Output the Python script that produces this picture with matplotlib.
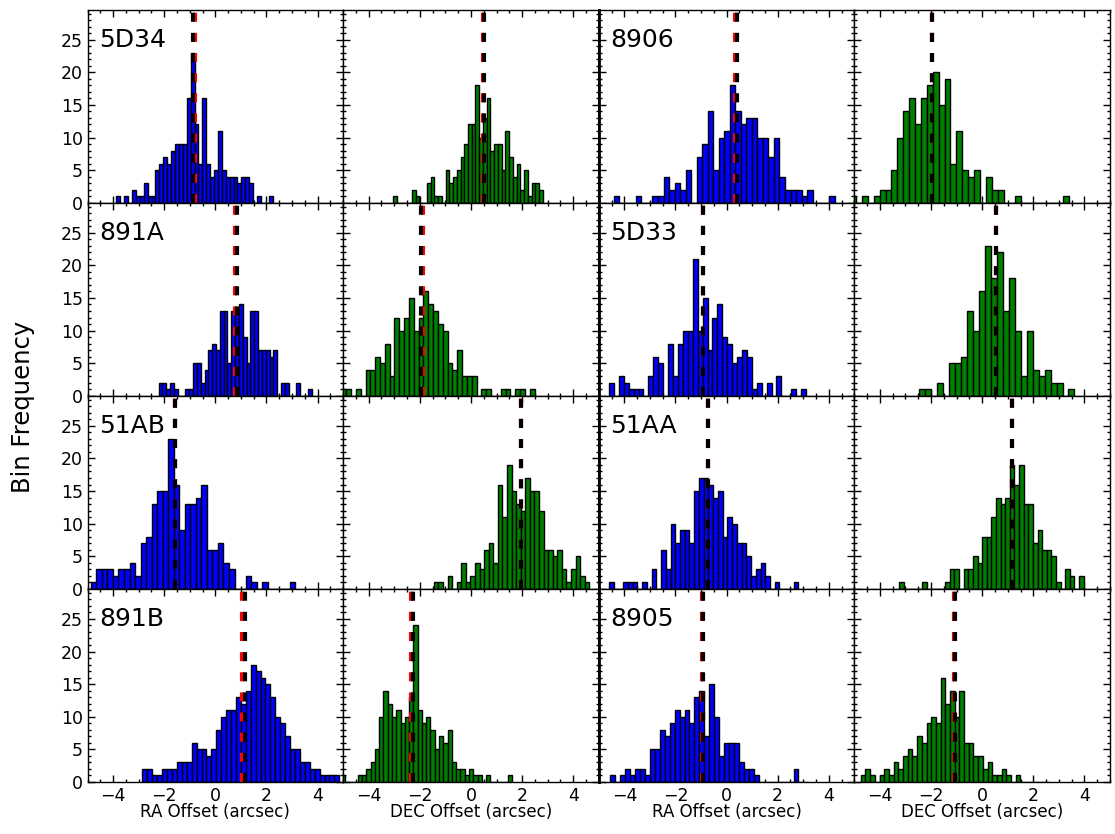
import numpy as np
import matplotlib.pyplot as plt

# source names: left pair of columns / right pair of columns, one per row
left_names = ['5D34', '891A', '51AB', '891B']
right_names = ['8906', '5D33', '51AA', '8905']

# histogram counts (40 equal bins unless noted) and the bin range (lo, hi) in arcsec
ra_5d34 = [1, 0, 1, 0, 2, 1, 1, 3, 1, 1, 5, 6, 7, 6, 8, 9, 9, 9, 16, 23,
           12, 6, 16, 6, 4, 5, 11, 5, 4, 4, 4, 3, 4, 4, 3, 0, 1, 0, 0, 1]
ra_5d34_rng = (-3.87, 2.24)
dec_5d34 = [1, 0, 0, 0, 0, 2, 1, 0, 0, 3, 4, 1, 1, 0, 5, 3, 4, 5, 7, 9,
            12, 12, 18, 10, 13, 16, 8, 9, 9, 5, 11, 7, 4, 6, 2, 5, 1, 3, 3, 2]
dec_5d34_rng = (-3.04, 2.81)

ra_8906 = [1, 0, 0, 0, 1, 0, 0, 1, 1, 4, 2, 3, 2, 5, 0, 7, 9, 14, 5, 10,
           11, 18, 14, 12, 13, 13, 10, 10, 7, 10, 4, 2, 2, 2, 1, 2, 0, 0, 0, 1]
ra_8906_rng = (-4.41, 4.23)
dec_8906 = [1, 0, 0, 1, 0, 1, 0, 1, 2, 2, 5, 10, 14, 16, 12, 16, 18, 20, 15, 19,
            6, 11, 5, 4, 5, 0, 4, 2, 2, 0, 0, 1, 0, 0, 0, 0, 0, 0, 0, 1]
dec_8906_rng = (-5.86, 3.38)

ra_891a = [2, 2, 1, 2, 1, 0, 0, 1, 1, 5, 5, 2, 4, 7, 8, 7, 13, 13, 5, 13,
           13, 14, 9, 5, 13, 13, 7, 7, 7, 6, 7, 0, 2, 2, 0, 0, 2, 0, 0, 1]
ra_891a_rng = (-2.22, 3.77)
dec_891a = [1, 1, 0, 1, 0, 4, 4, 6, 5, 8, 3, 12, 10, 12, 15, 10, 12, 16, 14, 13,
            11, 10, 5, 4, 7, 3, 3, 3, 0, 1, 1, 0, 0, 1, 1, 0, 1, 1, 0, 1]
dec_891a_rng = (-5.07, 2.49)

ra_5d33 = [2, 0, 3, 2, 1, 1, 1, 0, 3, 6, 5, 0, 8, 3, 8, 10, 10, 21, 10, 15,
           7, 12, 14, 9, 8, 5, 6, 7, 6, 1, 2, 0, 2, 0, 3, 0, 0, 1, 0, 1]
ra_5d33_rng = (-4.60, 3.11)
# 26 bins
dec_5d33 = [1, 1, 0, 2, 0, 5, 5, 6, 13, 10, 16, 23, 18, 22, 13, 18, 10, 3, 10, 4,
            3, 4, 2, 2, 0, 1]
dec_5d33_rng = (-2.46, 3.61)

ra_51ab = [1, 0, 0, 1, 3, 3, 3, 2, 3, 3, 4, 2, 7, 8, 13, 15, 15, 23, 16, 9,
           13, 13, 14, 16, 6, 6, 7, 4, 3, 0, 0, 2, 1, 0, 1, 0, 0, 0, 0, 1]
ra_51ab_rng = (-5.52, 3.13)
# 34 bins
dec_51ab = [1, 1, 0, 2, 0, 1, 4, 1, 2, 4, 3, 6, 7, 4, 16, 11, 19, 15, 13, 12,
            17, 15, 15, 12, 6, 6, 5, 6, 3, 1, 3, 5, 2, 1]
dec_51ab_rng = (-1.45, 4.63)

ra_51aa = [1, 0, 0, 1, 1, 1, 0, 1, 0, 3, 0, 6, 3, 10, 7, 9, 9, 7, 15, 17,
           17, 16, 14, 15, 8, 11, 10, 7, 7, 5, 2, 3, 4, 2, 0, 1, 0, 0, 0, 1]
ra_51aa_rng = (-4.60, 2.81)
dec_51aa = [1, 0, 0, 0, 0, 1, 0, 0, 0, 0, 1, 3, 3, 0, 3, 3, 5, 4, 8, 8,
            11, 14, 13, 14, 19, 16, 19, 13, 13, 7, 9, 6, 6, 5, 1, 0, 3, 2, 0, 2]
dec_51aa_rng = (-3.25, 3.97)

ra_891b = [2, 2, 1, 1, 2, 2, 2, 3, 3, 3, 6, 5, 5, 4, 5, 8, 10, 11, 11, 13,
           12, 14, 18, 17, 16, 15, 13, 10, 9, 7, 5, 5, 3, 3, 2, 2, 1, 1, 1, 1]
ra_891b_rng = (-2.85, 4.85)
dec_891b = [1, 0, 0, 0, 1, 1, 2, 3, 5, 10, 14, 12, 10, 11, 9, 10, 13, 24, 11, 9,
            10, 8, 5, 7, 6, 8, 3, 2, 2, 1, 2, 1, 1, 0, 1, 0, 0, 0, 0, 1]
dec_891b_rng = (-5.10, 1.60)

ra_8905 = [1, 0, 1, 2, 1, 2, 2, 1, 5, 5, 8, 7, 9, 11, 10, 11, 9, 13, 14, 7,
           15, 10, 4, 6, 6, 6, 3, 2, 2, 1, 0, 0, 0, 0, 0, 0, 0, 2, 0, 0]
ra_8905_rng = (-4.55, 3.20)
dec_8905 = [1, 2, 1, 0, 1, 2, 1, 3, 2, 4, 5, 4, 7, 6, 9, 10, 9, 16, 12, 14,
            10, 14, 6, 6, 4, 4, 2, 3, 1, 1, 2, 1, 0, 1, 0, 0, 0, 0, 0, 0]
dec_8905_rng = (-4.75, 2.60)

# dashed markers per panel: black and red offsets (arcsec), order RA, DEC
black_left = [(-0.88, 0.50), (0.84, -1.95), (-1.57, 1.95), (1.18, -2.25)]
red_left = [(-0.80, 0.48), (0.77, -1.87), (-1.58, 1.95), (1.05, -2.33)]
black_right = [(0.39, -1.95), (-0.91, 0.56), (-0.71, 1.18), (-0.93, -1.05)]
red_right = [(0.33, -1.96), (-0.92, 0.55), (-0.72, 1.17), (-0.95, -1.12)]

hist_left = [((ra_5d34, ra_5d34_rng), (dec_5d34, dec_5d34_rng)),
             ((ra_891a, ra_891a_rng), (dec_891a, dec_891a_rng)),
             ((ra_51ab, ra_51ab_rng), (dec_51ab, dec_51ab_rng)),
             ((ra_891b, ra_891b_rng), (dec_891b, dec_891b_rng))]
hist_right = [((ra_8906, ra_8906_rng), (dec_8906, dec_8906_rng)),
              ((ra_5d33, ra_5d33_rng), (dec_5d33, dec_5d33_rng)),
              ((ra_51aa, ra_51aa_rng), (dec_51aa, dec_51aa_rng)),
              ((ra_8905, ra_8905_rng), (dec_8905, dec_8905_rng))]

plt.rcParams['font.family'] = 'DejaVu Sans'
plt.rcParams['lines.scale_dashes'] = False


def draw_hist(ax, counts, rng, color):
    edges = np.linspace(rng[0], rng[1], len(counts) + 1)
    ax.bar(edges[:-1], counts, width=np.diff(edges), align='edge',
           color=color, edgecolor='k', linewidth=1.0, zorder=2)


def draw_marks(ax, xb, xr):
    ax.axvline(xr, color='r', lw=3, dashes=(6.5, 8), zorder=3)
    ax.axvline(xb, color='k', lw=3, dashes=(6.5, 8), zorder=4)


fig, axes = plt.subplots(4, 4, figsize=(11.15, 8.34), dpi=100)
fig.subplots_adjust(left=0.0785, right=0.9955, top=0.9884, bottom=0.0624,
                    wspace=0, hspace=0)

for row in range(4):
    for half in range(2):
        names = left_names if half == 0 else right_names
        hists = hist_left if half == 0 else hist_right
        blacks = black_left if half == 0 else black_right
        reds = red_left if half == 0 else red_right
        for k in range(2):
            ax = axes[row, 2 * half + k]
            counts, rng = hists[row][k]
            draw_hist(ax, counts, rng, 'blue' if k == 0 else 'green')
            draw_marks(ax, blacks[row][k], reds[row][k])

            ax.set_xlim(-5, 5)
            ax.set_ylim(0, 29.6)
            ax.set_xticks([-4, -2, 0, 2, 4])
            ax.set_xticks(np.arange(-5, 5.01, 0.5), minor=True)
            ax.set_yticks([0, 5, 10, 15, 20, 25])
            ax.set_yticks(np.arange(0, 30, 1), minor=True)
            ax.tick_params(which='both', direction='in', top=True, right=True,
                           labelsize=12.5, width=1)
            ax.tick_params(which='major', length=5)
            ax.tick_params(which='minor', length=2.5)
            for sp in ax.spines.values():
                sp.set_linewidth(1.0)
            if 2 * half + k != 0:
                ax.tick_params(labelleft=False)
            if row != 3:
                ax.tick_params(labelbottom=False)
            else:
                ax.set_xlabel('RA Offset (arcsec)' if k == 0 else 'DEC Offset (arcsec)',
                              fontsize=12, labelpad=-1)
            if k == 0:
                ax.text(0.045, 0.807, names[row], transform=ax.transAxes,
                        fontsize=18, zorder=5)

# heavier divider between the two source groups
for row in range(4):
    axes[row, 1].spines['right'].set_linewidth(2.0)
    axes[row, 2].spines['left'].set_linewidth(2.0)

fig.text(0.021, 0.512, 'Bin Frequency', rotation=90, va='center', ha='center',
         fontsize=17.5)

fig.savefig('out.png', dpi=100)
